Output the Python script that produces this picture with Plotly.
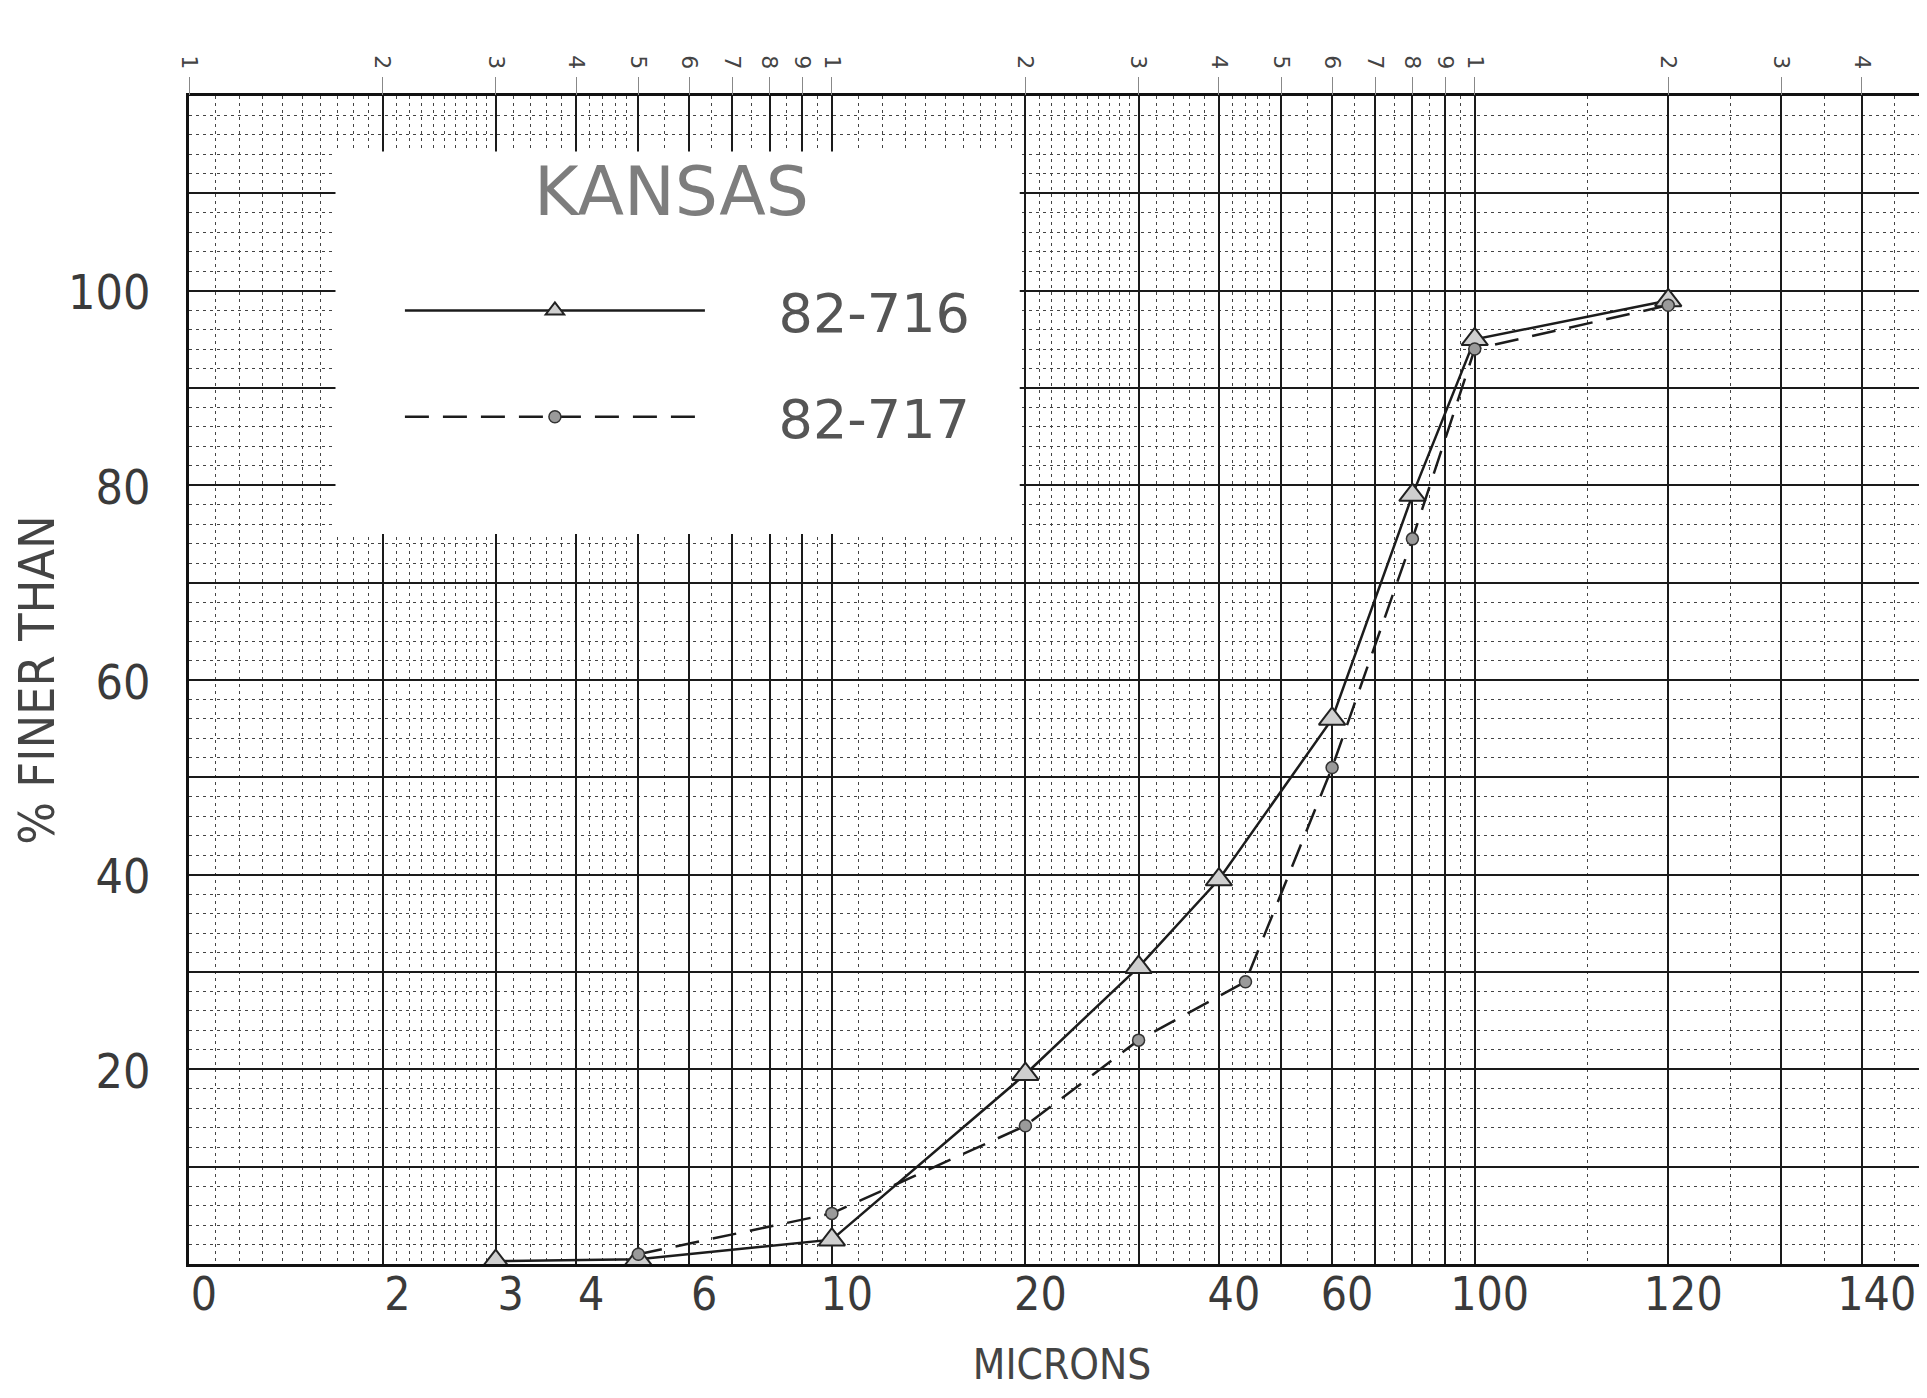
import math
import numpy as np
import plotly.graph_objects as go

# ---- data ----
size_716 = [3, 5, 10, 20, 30, 40, 60, 80, 100, 200]
pct_716 = [0.3, 0.5, 2.5, 19.5, 30.5, 39.5, 56, 79, 95, 99]

size_717 = [5, 10, 20, 30, 44, 60, 80, 100, 200]
pct_717 = [1, 5.2, 14.2, 23, 29, 51, 74.5, 94, 98.5]

series_names = ["82-716", "82-717"]
chart_label = "KANSAS"

x_tickvals = [1, 2, 3, 4, 6, 10, 20, 40, 60, 100, 200, 400]
x_ticktext = ["0", "2", "3", "4", "6", "10", "20", "40", "60", "100", "120", "140"]
y_tickvals = [20, 40, 60, 80, 100]
y_ticktext = ["20", "40", "60", "80", "100"]

# log-paper printed digits along the top
paper_digits = [1, 2, 3, 4, 5, 6, 7, 8, 9,
                10, 20, 30, 40, 50, 60, 70, 80, 90,
                100, 200, 300, 400, 500]
paper_digit_text = ["1", "2", "3", "4", "5", "6", "7", "8", "9",
                    "1", "2", "3", "4", "5", "6", "7", "8", "9",
                    "1", "2", "3", "4", "5"]

# ---- log paper fine rulings ----
def sub_rulings(scale):
    vals = list(np.arange(1.1, 3.0, 0.1))
    for a in (3, 4):
        vals += list(np.arange(a + 0.2, a + 0.99, 0.2))
    vals += [5.5, 6.5, 7.5, 8.5, 9.5]
    return [round(v * scale, 6) for v in vals if abs(v - 2.0) > 1e-6]

minor_x = sub_rulings(1) + sub_rulings(10) + [150, 250, 350, 450]

X_RANGE = [0, math.log10(520)]
Y_RANGE = [0, 120]

LABEL_FONT = "Liberation Sans Narrow, DejaVu Sans Condensed, Liberation Sans, sans-serif"
LEG_FONT = "DejaVu Sans, sans-serif"
GAP = "\u00a0\u00a0\u00a0\u00a0"

fig = go.Figure()

fig.add_trace(go.Scatter(
    x=size_716, y=pct_716, mode="lines+markers", name=GAP + series_names[0],
    legendgroup="a",
    line=dict(color="#1c1c1c", width=2.5),
    marker=dict(symbol="triangle-up", size=23, color="#cfcfcf",
                line=dict(color="#222", width=2)),
))
fig.add_trace(go.Scatter(
    x=size_717, y=pct_717, mode="lines+markers", name=GAP + series_names[1],
    legendgroup="b",
    line=dict(color="#1c1c1c", width=2.5, dash="24px,14px"),
    marker=dict(symbol="circle", size=12, color="#9a9a9a",
                line=dict(color="#333", width=1.5)),
))
# empty trace so the ruling axes are instantiated
fig.add_trace(go.Scatter(x=[], y=[], xaxis="x2", yaxis="y2",
                         showlegend=False, hoverinfo="skip"))

# white label block pasted on the paper
fig.add_shape(type="rect", xref="x", yref="y",
              x0=1.69, x1=19.6, y0=75, y1=114.3,
              fillcolor="white", line=dict(width=0), layer="between")

fig.add_annotation(text=chart_label, xref="paper", yref="paper",
                   x=0.2766, y=0.918, xanchor="center", yanchor="middle",
                   showarrow=False,
                   font=dict(size=68, color="#7d7d7d", family=LEG_FONT))

fig.update_layout(
    width=1927, height=1398,
    margin=dict(l=181, r=0, t=88, b=142, autoexpand=False),
    paper_bgcolor="white", plot_bgcolor="white",
    font=dict(family=LABEL_FONT, color="#333"),
    showlegend=True,
    legend=dict(
        x=0.1208, xanchor="left", y=0.852, yanchor="top",
        bgcolor="rgba(0,0,0,0)",
        font=dict(size=54, color="#555", family=LEG_FONT),
        itemwidth=300, tracegroupgap=33, itemsizing="trace",
    ),
    xaxis=dict(
        type="log", range=X_RANGE,
        tickmode="array", tickvals=x_tickvals, ticktext=x_ticktext,
        showgrid=False, zeroline=False,
        showline=True, linecolor="#111", linewidth=3, mirror=True,
        ticks="", ticklabelstandoff=-12,
        tickfont=dict(size=46, color="#3a3a3a"),
        ticklabelshift=15,
        title=dict(text="MICRONS", font=dict(size=42, color="#444"), standoff=30),
    ),
    xaxis2=dict(
        type="log", range=X_RANGE, overlaying="x", side="top", anchor="y2",
        tickmode="array", tickvals=paper_digits, ticktext=paper_digit_text,
        tickangle=90, tickfont=dict(size=22, color="#444", family="DejaVu Sans"),
        ticks="outside", ticklen=18, tickcolor="#888", tickwidth=1,
        showgrid=True, gridcolor="#1a1a1a", gridwidth=1.5,
        showline=False, zeroline=False,
        minor=dict(tickmode="array", tickvals=minor_x, showgrid=True,
                   gridcolor="#444", gridwidth=1, griddash="3px,4px", ticks=""),
    ),
    yaxis=dict(
        range=Y_RANGE,
        tickmode="array", tickvals=y_tickvals, ticktext=y_ticktext,
        showgrid=False, zeroline=False,
        showline=True, linecolor="#111", linewidth=3,
        ticks="outside", ticklen=26, tickcolor="rgba(0,0,0,0)",
        tickfont=dict(size=48, color="#3a3a3a"),
        ticklabelshift=2,
        title=dict(text="% FINER THAN", font=dict(size=50, color="#444"), standoff=20),
    ),
    yaxis2=dict(
        range=Y_RANGE, overlaying="y", side="right", anchor="x2",
        tickmode="linear", tick0=0, dtick=10, showticklabels=False,
        showgrid=True, gridcolor="#1a1a1a", gridwidth=1.5,
        showline=False, zeroline=False, ticks="",
        minor=dict(tickmode="linear", tick0=0, dtick=2, showgrid=True,
                   gridcolor="#444", gridwidth=1, griddash="3px,4px", ticks=""),
    ),
)

fig.write_html("out.html")
